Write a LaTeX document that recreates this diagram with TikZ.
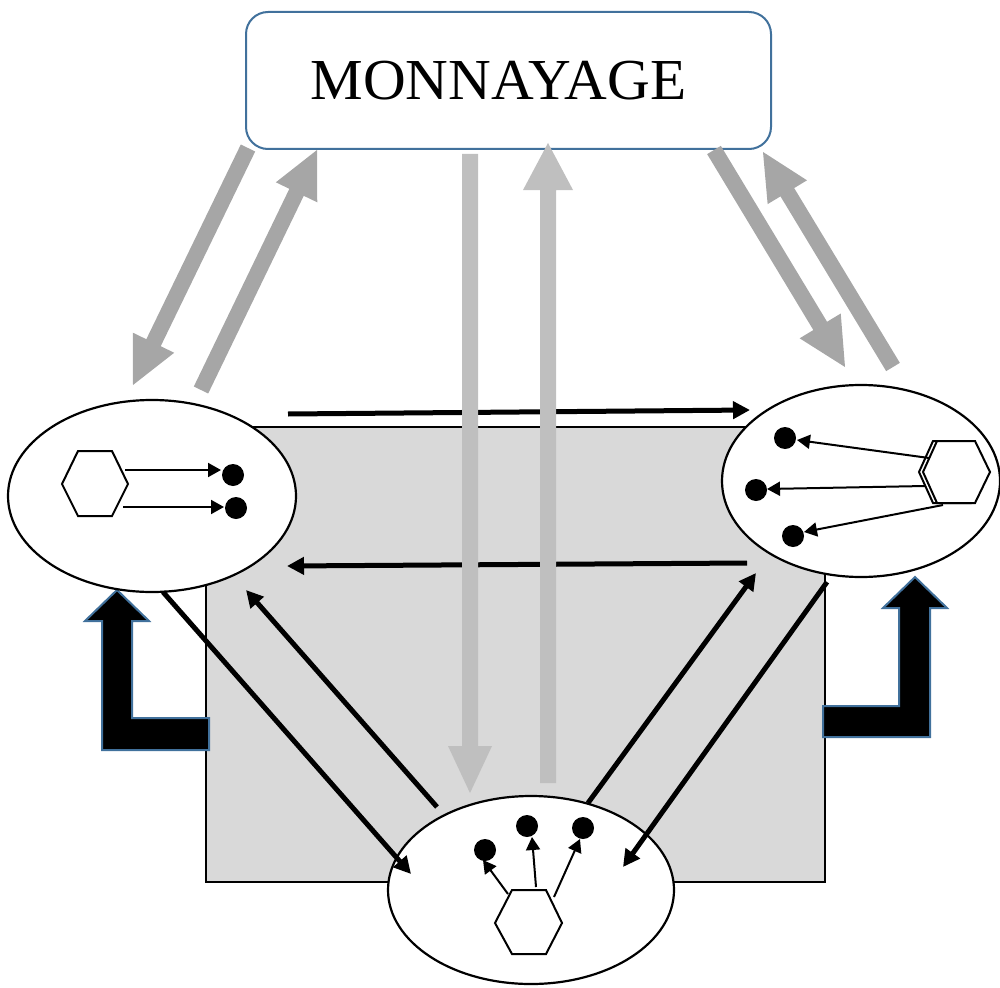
\documentclass[tikz,border=0pt]{standalone}
\usepackage{fontspec}
\setmainfont{Liberation Serif}
\usetikzlibrary{arrows.meta,calc,shapes.geometric}

\definecolor{frameblue}{RGB}{65,113,156}
\definecolor{panelgray}{RGB}{217,217,217}
\definecolor{flowgray}{RGB}{166,166,166}
\definecolor{flowlight}{RGB}{191,191,191}

% wide block arrow: tail, tip, shaft half-width, head half-width, head length, colour
\newcommand\blockarrow[6]{%
  \coordinate (ba-b) at ($(#2)!#5!(#1)$);
  \fill[#6] ($(#1)!#3!90:(#2)$) -- ($(ba-b)!#3!90:(#2)$) -- ($(ba-b)!#4!90:(#2)$)
    -- (#2) -- ($(ba-b)!#4!-90:(#2)$) -- ($(ba-b)!#3!-90:(#2)$)
    -- ($(#1)!#3!-90:(#2)$) -- cycle;}

\begin{document}
\begin{tikzpicture}[x=1pt,y=-1pt,
  oval/.style={draw=black,line width=2.2pt,fill=white,ellipse,inner sep=0pt},
  dot/.style={circle,fill=black,inner sep=0pt,minimum size=22pt},
  hexa/.style={draw=black,line width=2pt,fill=white,line join=miter},
  link/.style={line width=5pt,-{Triangle[length=17pt,width=17pt]}},
  tiny/.style={line width=2pt,-{Triangle[length=13pt,width=14pt]}},
  elbow/.style={fill=black,draw=frameblue,line width=2pt,line join=miter}]
\useasboundingbox (0,0) rectangle (1000,987);

% title box
\node[draw=frameblue,line width=2pt,rounded corners=22pt,fill=white,
      minimum width=525pt,minimum height=137pt] (mint) at (508.5,80.5) {};
\node[anchor=base,inner sep=0pt,font=\fontsize{58}{60}\selectfont] (title) at (498.5,100)
  {\scalebox{1.02}[1]{MONNAYAGE}};

% shaded panel
\node[draw=black,line width=2pt,fill=panelgray,minimum width=619pt,minimum height=455pt,
      inner sep=0pt] (panel) at (515.5,654.5) {};

% bent feedback arrows
\path[elbow] (117,590) -- (149,621) -- (132,621) -- (132,718) -- (209,718) -- (209,750)
  -- (102,750) -- (102,621) -- (85,621) -- cycle;
\path[elbow] (915,577) -- (947,608) -- (930,608) -- (930,737) -- (823,737) -- (823,706)
  -- (899,706) -- (899,608) -- (883,608) -- cycle;

% the three groups
\node[oval,minimum width=288pt,minimum height=192pt] (left) at (152,496) {};
\node[oval,minimum width=278pt,minimum height=192pt] (right) at (861,481) {};
\node[oval,minimum width=286pt,minimum height=188pt] (bottom) at (531,890) {};

% left group
\draw[hexa] (62,484) -- (78,451) -- (112,451) -- (128,484) -- (112,516) -- (78,516) -- cycle;
\node[dot] (l1) at (233,475) {};
\node[dot] (l2) at (236,508) {};
\coordinate (lh1) at (125,470);
\coordinate (lh2) at (123,507);
\draw[tiny] (lh1) -- (221,470);
\draw[tiny] (lh2) -- (224,507);

% right group
\draw[hexa] (919,472) -- (933,441) -- (971,441) -- (986,472) -- (971,503) -- (933,503) -- cycle;
\draw[hexa] (923,472) -- (937,441) -- (975,441) -- (990,472) -- (975,503) -- (937,503) -- cycle;
\node[dot] (r1) at (785,438) {};
\node[dot] (r2) at (756,490) {};
\node[dot] (r3) at (793,536) {};
\coordinate (rh1) at (929,458);
\coordinate (rh2) at (925,486);
\coordinate (rh3) at (943,505);
\draw[tiny] (rh1) -- (797,440);
\draw[tiny] (rh2) -- (767,489);
\draw[tiny] (rh3) -- (804,532);

% bottom group
\draw[hexa] (495,923) -- (512,890) -- (546,890) -- (562,923) -- (546,954) -- (512,954) -- cycle;
\node[dot] (b1) at (485,850) {};
\node[dot] (b2) at (527,826) {};
\node[dot] (b3) at (583,828) {};
\coordinate (bh1) at (508,894);
\coordinate (bh2) at (536,887);
\coordinate (bh3) at (554,897);
\draw[tiny] (bh1) -- (483,860);
\draw[tiny] (bh2) -- (532,837);
\draw[tiny] (bh3) -- (580,839);

% exchanges between the groups
\coordinate (lr-s) at (288,414);  \coordinate (lr-e) at (750,410);
\coordinate (rl-s) at (747,563);  \coordinate (rl-e) at (287,566);
\coordinate (lb-s) at (163,592);  \coordinate (lb-e) at (411,874);
\coordinate (bl-s) at (437,807);  \coordinate (bl-e) at (246,590);
\coordinate (br-s) at (588,803);  \coordinate (br-e) at (756,573);
\coordinate (rb-s) at (827,582);  \coordinate (rb-e) at (623,867);
\draw[link] (lr-s) -- (lr-e);
\draw[link] (rl-s) -- (rl-e);
\draw[link] (lb-s) -- (lb-e);
\draw[link] (bl-s) -- (bl-e);
\draw[link] (br-s) -- (br-e);
\draw[link] (rb-s) -- (rb-e);

% flows to and from the title box
\coordinate (ml-out) at (248,148);  \coordinate (ml-in) at (133,385);
\coordinate (lm-out) at (201,390);  \coordinate (lm-in) at (317,150);
\coordinate (mb-out) at (470,154);  \coordinate (mb-in) at (470,793);
\coordinate (bm-out) at (548,783);  \coordinate (bm-in) at (548,143);
\coordinate (mr-out) at (714,150);  \coordinate (mr-in) at (845,367);
\coordinate (rm-out) at (893,367);  \coordinate (rm-in) at (763,152);
\blockarrow{ml-out}{ml-in}{8pt}{23pt}{47pt}{flowgray}
\blockarrow{lm-out}{lm-in}{8pt}{23pt}{47pt}{flowgray}
\blockarrow{mb-out}{mb-in}{8pt}{22pt}{47pt}{flowlight}
\blockarrow{bm-out}{bm-in}{8pt}{25pt}{47pt}{flowlight}
\blockarrow{mr-out}{mr-in}{8pt}{24pt}{48pt}{flowgray}
\blockarrow{rm-out}{rm-in}{8pt}{23pt}{47pt}{flowgray}
\end{tikzpicture}
\end{document}
